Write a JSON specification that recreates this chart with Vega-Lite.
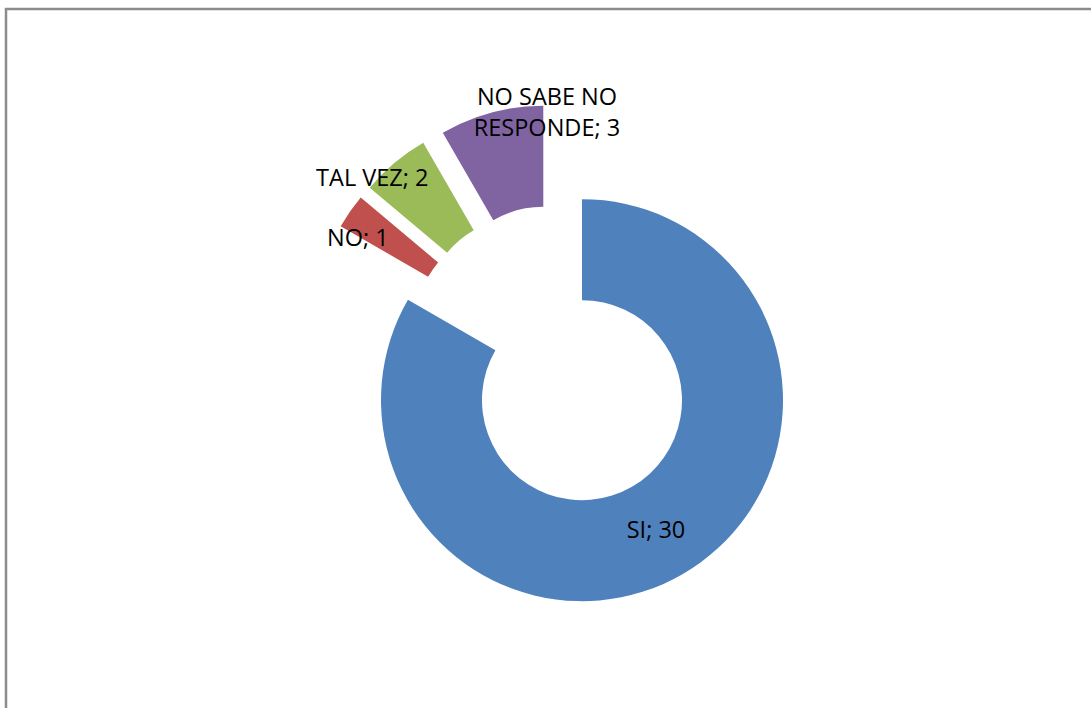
{
  "$schema": "https://vega.github.io/schema/vega-lite/v6.json",
  "autosize": {"type": "fit", "contains": "padding"},
  "width": 1091,
  "height": 708,
  "padding": {"left": 6, "top": 9, "right": -5, "bottom": -5},
  "background": "white",
  "view": {"stroke": "#8c8c8c", "strokeWidth": 2.5, "fill": "white"},
  "data": {
    "values": [
      {"cat": "SI", "value": 30, "ord": 1, "label": "SI; 30"},
      {"cat": "NO", "value": 1, "ord": 2, "label": "NO; 1"},
      {"cat": "TAL VEZ", "value": 2, "ord": 3, "label": "TAL VEZ; 2"},
      {"cat": "NO SABE NO RESPONDE", "value": 3, "ord": 4, "label": "NO SABE NO\nRESPONDE; 3"}
    ]
  },
  "transform": [
    {"joinaggregate": [{"op": "sum", "field": "value", "as": "total"}]},
    {"window": [{"op": "sum", "field": "value", "as": "cum"}], "sort": [{"field": "ord", "order": "ascending"}], "frame": [null, 0]},
    {"calculate": "(datum.cum - datum.value / 2) / datum.total * 2 * PI", "as": "mid"}
  ],
  "layer": [
    {
      "mark": {
        "type": "arc",
        "outerRadius": 201,
        "innerRadius": 100,
        "xOffset": {"expr": "5.5 + 51 * sin(datum.mid)"},
        "yOffset": {"expr": "-5 - 51 * cos(datum.mid)"}
      },
      "encoding": {
        "theta": {"field": "value", "type": "quantitative", "stack": true},
        "order": {"field": "ord", "type": "quantitative", "sort": "ascending"},
        "color": {
          "field": "cat",
          "type": "nominal",
          "scale": {
            "domain": ["SI", "NO", "TAL VEZ", "NO SABE NO RESPONDE"],
            "range": ["#4F81BD", "#C0504D", "#9BBB59", "#8064A2"]
          },
          "legend": null
        }
      }
    },
    {
      "mark": {
        "type": "text",
        "font": "Open Sans",
        "fontSize": 23.5,
        "color": "#000000",
        "align": "center",
        "baseline": "middle",
        "lineBreak": "\n",
        "lineHeight": 31,
        "xOffset": {"expr": "5.5 + 201 * sin(datum.mid)"},
        "yOffset": {"expr": "-5 - 201 * cos(datum.mid)"},
        "dx": {"expr": "datum.cat == 'NO' ? -34 : datum.cat == 'TAL VEZ' ? -55 : datum.cat == 'NO SABE NO RESPONDE' ? 42.5 : -1"},
        "dy": {"expr": "datum.cat == 'NO' ? -2 : datum.cat == 'TAL VEZ' ? -23.5 : datum.cat == 'NO SABE NO RESPONDE' ? -63.5 : 1.4"}
      },
      "encoding": {
        "text": {"field": "label", "type": "nominal"}
      }
    }
  ]
}
